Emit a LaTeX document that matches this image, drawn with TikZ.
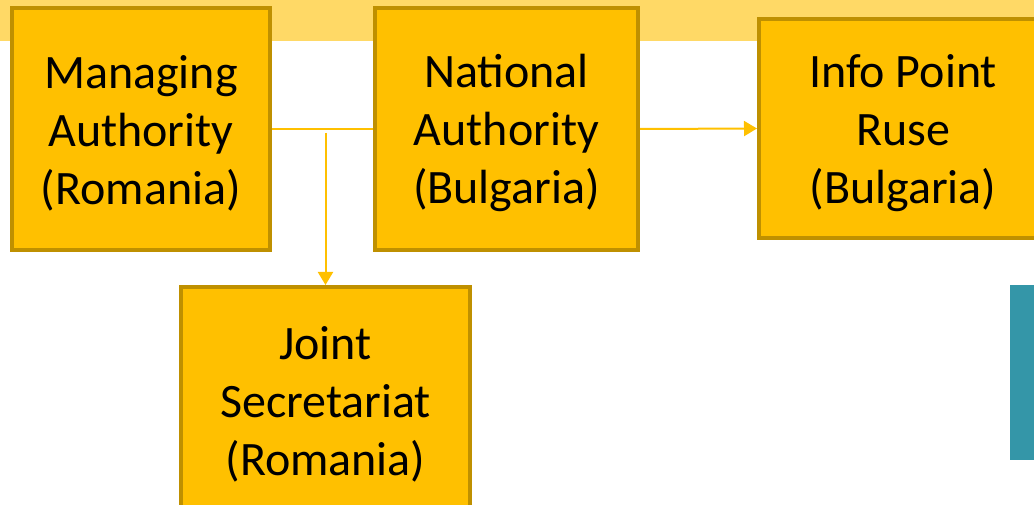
\documentclass[tikz,border=0pt]{standalone}
\usepackage{fontspec}
\setmainfont{Carlito}
\usepackage{xcolor}
\usepackage{tikz}
\usetikzlibrary{positioning, arrows.meta, calc}
\definecolor{ctBand}{RGB}{255, 217, 102}
\definecolor{ctGold}{RGB}{255, 192, 0}
\definecolor{ctEdge}{RGB}{191, 144, 0}
\definecolor{ctTeal}{RGB}{52, 150, 168}
\newcommand{\topstrut}{\rule{0pt}{42pt}}
\tikzset{
    base/.style={
        font=\fontsize{48}{58}\selectfont,
        align=center
    },
    office/.style={
        base,
        rectangle,
        draw=ctEdge,
        line width=4pt,
        fill=ctGold,
        text=black,
        inner sep=0pt
    },
    flow/.style={
        -{Triangle[length=13pt, width=15pt]},
        line width=2pt,
        color=ctGold
    },
    link/.style={
        line width=2pt,
        color=ctGold
    }
}

\begin{document}
\begin{tikzpicture}[x=1pt, y=-1pt]
  \useasboundingbox (0,0) rectangle (1034,505);
  \clip (0,0) rectangle (1034,505);

  % Background band and side bar
  \fill[ctBand] (0,0) rectangle (1034,41);
  \fill[ctTeal] (1010,285) rectangle (1040,460);

  % Offices
  \node[office, minimum width=258pt, minimum height=242pt] (ma) at (141,129)
      {\topstrut Managing\\Authority\\(Romania)};
  \node[office, minimum width=263pt, minimum height=242pt] (na) at (506.5,129)
      {\topstrut National\\Authority\\(Bulgaria)};
  \node[office, minimum width=288pt, minimum height=219pt] (ip) at (903,128.5)
      {\topstrut Info Point\\Ruse\\(Bulgaria)};
  \node[office, minimum width=289pt, minimum height=226pt] (js) at (325.5,400)
      {\topstrut Joint\\Secretariat\\(Romania)};

  % Connectors
  \coordinate (split) at ($(js.north |- ma.east) + (0,4)$);
  \draw[link] (ma.east) -- (na.west);
  \draw[flow] (split) -- (js.north);
  \draw[flow] (na.east) -- (ip.west);
\end{tikzpicture}
\end{document}
